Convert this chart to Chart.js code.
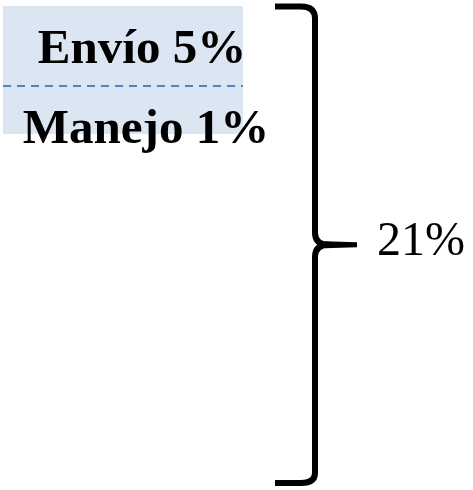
<!DOCTYPE html>
<html>
<head>
  <meta charset="utf-8">
  <title>Costos</title>
  <script src="https://cdn.jsdelivr.net/npm/chart.js@4/dist/chart.umd.min.js"></script>
  <style type="text/css">
    body { margin: 0; background: #fff; }
    #chart-container { width: 473px; height: 490px; }
  </style>
</head>
<body>
<div id="chart-container">
  <canvas id="mycanvas" width="473" height="490"></canvas>
</div>
<script>
// segments of the bar (scale = 21% total)
var segments = ['Resto', 'Manejo', 'Envío'];
var segmentValues = [15.4, 2.1, 3.5];
var segmentLabels = ['', 'Manejo 1%', 'Envío 5%'];
var totalLabel = '21%';
var totalValue = 21;

var fill = '#dce6f2';

var datasets = [];
for (var i = 0; i < segments.length; i++) {
  datasets.push({
    label: segments[i],
    data: [segmentValues[i]],
    backgroundColor: i === 0 ? 'rgba(0,0,0,0)' : fill,
    borderWidth: 0,
    barPercentage: 1,
    categoryPercentage: 1
  });
}

var extras = {
  id: 'extras',
  afterDraw: function(chart) {
    var ctx = chart.ctx;
    var area = chart.chartArea;
    var y = chart.scales.y;
    var meta = chart.getDatasetMeta(1);
    var bar = meta.data[0];
    var cx = (area.left + area.right) / 2;

    // dashed line between Manejo and Envío
    var yLine = Math.round(bar.y);
    ctx.save();
    ctx.strokeStyle = '#4f81bd';
    ctx.lineWidth = 2;
    ctx.setLineDash([8, 6]);
    ctx.beginPath();
    ctx.moveTo(area.left, yLine);
    ctx.lineTo(area.right, yLine);
    ctx.stroke();
    ctx.restore();

    // segment labels
    ctx.save();
    ctx.fillStyle = '#000';
    ctx.textAlign = 'center';
    ctx.textBaseline = 'alphabetic';
    ctx.font = 'bold 49px "Liberation Serif", "DejaVu Serif", serif';
    var top = chart.getDatasetMeta(2).data[0];
    ctx.fillText(segmentLabels[2], cx + 19, (top.y + top.base) / 2 + 17);
    ctx.fillText(segmentLabels[1], cx + 23, bar.base + 9);
    ctx.restore();

    // brace
    var yTop = y.getPixelForValue(totalValue) + 0.5;
    var yBot = y.getPixelForValue(0) - 2;
    var yMid = (yTop + yBot) / 2;
    var xArm = area.right + 32;
    var xV = area.right + 72;
    var xTip = area.right + 114;
    ctx.save();
    ctx.strokeStyle = '#000';
    ctx.fillStyle = '#000';
    ctx.lineWidth = 6;
    ctx.lineCap = 'butt';
    ctx.beginPath();
    ctx.moveTo(xArm, yTop);
    ctx.lineTo(xV - 14, yTop);
    ctx.quadraticCurveTo(xV, yTop, xV, yTop + 12);
    ctx.lineTo(xV, yMid - 12);
    ctx.quadraticCurveTo(xV, yMid, xV + 14, yMid);
    ctx.moveTo(xV + 14, yMid);
    ctx.quadraticCurveTo(xV, yMid, xV, yMid + 12);
    ctx.lineTo(xV, yBot - 10);
    ctx.quadraticCurveTo(xV, yBot, xV - 14, yBot);
    ctx.lineTo(xArm, yBot);
    ctx.stroke();
    // tapered tip
    ctx.beginPath();
    ctx.moveTo(xV + 10, yMid - 3.5);
    ctx.lineTo(xTip, yMid - 2.5);
    ctx.lineTo(xTip, yMid + 2.5);
    ctx.lineTo(xV + 10, yMid + 3.5);
    ctx.closePath();
    ctx.fill();

    ctx.font = '48px "Liberation Serif", "DejaVu Serif", serif';
    ctx.textAlign = 'left';
    ctx.fillText(totalLabel, area.right + 134, yMid + 10);
    ctx.restore();
  }
};

var chart = new Chart(document.getElementById('mycanvas'), {
  type: 'bar',
  data: { labels: [''], datasets: datasets },
  options: {
    responsive: false,
    animation: false,
    layout: { padding: { top: 6, bottom: 5, left: 3, right: 230 } },
    plugins: { legend: { display: false }, tooltip: { enabled: false } },
    scales: {
      x: { display: false, stacked: true },
      y: { display: false, stacked: true, min: 0, max: totalValue }
    }
  },
  plugins: [extras]
});
</script>
</body>
</html>
